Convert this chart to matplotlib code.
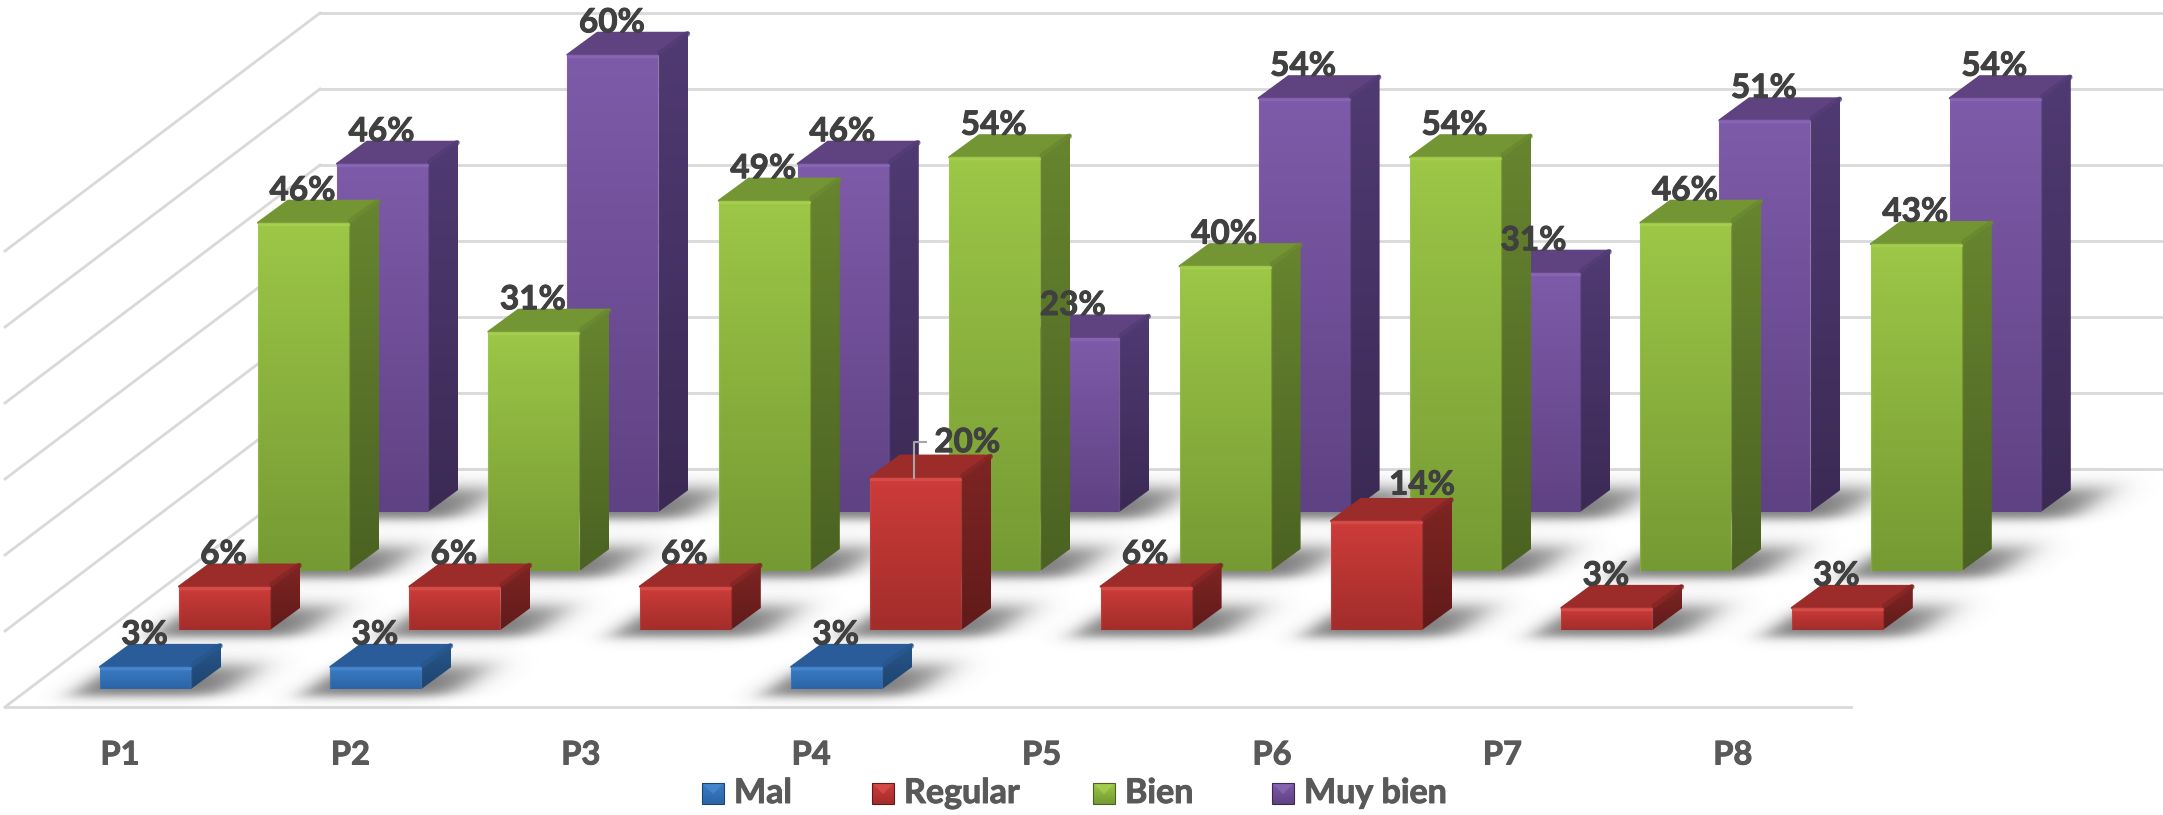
import numpy as np
import matplotlib
matplotlib.use("Agg")
import matplotlib.pyplot as plt
import matplotlib.patheffects as pe
from matplotlib.colors import LinearSegmentedColormap
from matplotlib.patches import Polygon

categories = ["P1", "P2", "P3", "P4", "P5", "P6", "P7", "P8"]
series_names = ["Mal", "Regular", "Bien", "Muy bien"]
mal = [2.9, 2.9, None, 2.9, None, None, None, None]
regular = [5.7, 5.7, 5.7, 20.0, 5.7, 14.3, 2.9, 2.9]
bien = [45.7, 31.4, 48.6, 54.3, 40.0, 54.3, 45.7, 42.9]
muy_bien = [45.7, 60.0, 45.7, 22.9, 54.3, 31.4, 51.4, 54.3]
grid_ticks = [0, 10, 20, 30, 40, 50, 60]

W, H = 2163, 815
X0, Y0 = 100, 689       # front left foot of first bar in first row
CAT_STEP = 230.4
ROW_DX, ROW_DY = 79, 59
BAR_W = 91
DEPTH_DX, DEPTH_DY = 30, 22
PX_PER_PCT = 7.62

# front top, front bottom, top face, side top, side bottom, highlight
palette = {
    "Mal": ("#3B7DC6", "#2C64A6", "#2A5C99", "#27568A", "#1F4470", "#4A8AD0"),
    "Regular": ("#CD3C39", "#A22D2B", "#9C2C2A", "#7E2523", "#611B1A", "#D9504C"),
    "Bien": ("#9CC747", "#759A33", "#749534", "#67852F", "#4B6222", "#A9D052"),
    "Muy bien": ("#7E5BA9", "#5F4283", "#5E4380", "#503A72", "#3C2A55", "#8C69B6"),
}

plt.rcParams["font.family"] = ["Lato", "DejaVu Sans"]
fig = plt.figure(figsize=(W / 100, H / 100), dpi=100)
ax = fig.add_axes([0, 0, 1, 1])
ax.axis("off")


def foot(cat, row):
    return X0 + cat * CAT_STEP + row * ROW_DX, Y0 - row * ROW_DY


def gradient(poly, c_top, c_bot, y_top, y_bot, x_min, x_max, z):
    cmap = LinearSegmentedColormap.from_list("g", [c_top, c_bot])
    im = ax.imshow(np.linspace(0, 1, 64).reshape(-1, 1), cmap=cmap, aspect="auto",
                   extent=[x_min, x_max, y_bot, y_top], zorder=z, interpolation="bilinear")
    patch = Polygon(poly, closed=True, transform=ax.transData, facecolor="none", edgecolor="none")
    ax.add_patch(patch)
    im.set_clip_path(patch)


def draw_shadow(x, y):
    # soft floor shadow, sheared along the depth direction
    xs = np.arange(x - 100, x + BAR_W + 150)
    ys = np.arange(y - 60, y + 40)
    gx, gy = np.meshgrid(xs, ys)
    u = gx + (gy - y) * DEPTH_DX / DEPTH_DY
    edge = lambda t, s: 1 / (1 + np.exp(-t / s))
    a = edge(u - (x - 20), 8) * edge((x + BAR_W + 38) - u, 11)
    a = a * edge(gy - (y - DEPTH_DY - 1), 5) * edge((y + 7) - gy, 3)
    rgba = np.zeros(a.shape + (4,))
    rgba[..., :3] = 0.2
    rgba[..., 3] = a * 0.66
    ax.imshow(rgba, extent=[xs[0], xs[-1], ys[-1], ys[0]], aspect="auto", zorder=2,
              interpolation="bilinear")


def draw_bar(x, y, value, name, z):
    ft, fb, tp, st, sb, hi = palette[name]
    h = value * PX_PER_PCT
    t = y - h
    r = x + BAR_W
    ddx, ddy = DEPTH_DX, DEPTH_DY
    front = [(x, y), (r, y), (r, t), (x, t)]
    side = [(r, y), (r + ddx, y - ddy), (r + ddx, t - ddy), (r, t)]
    top = [(x, t), (r, t), (r + ddx, t - ddy), (x + ddx, t - ddy)]
    gradient(side, st, sb, t - ddy, y, r, r + ddx, z)
    gradient(front, ft, fb, t, y, x, r, z + 0.1)
    ax.add_patch(Polygon(top, closed=True, facecolor=tp, edgecolor=tp, lw=1.5,
                         joinstyle="round", zorder=z + 0.2))
    # bevel highlights
    ax.plot([x + 1, r - 1], [t + 1, t + 1], color=hi, lw=2.5, alpha=0.8,
            solid_capstyle="round", zorder=z + 0.3)
    ax.plot([r + 2, r + ddx - 1], [t - 2, t - ddy + 1], color=st, lw=4, alpha=0.7,
            solid_capstyle="round", zorder=z + 0.3)
    ax.plot([r, r], [t + 2, y], color=hi, lw=1, alpha=0.35, zorder=z + 0.3)
    ax.plot([x, x], [t + 2, y], color=hi, lw=1, alpha=0.35, zorder=z + 0.3)


def thick(color, w=0.7):
    return [pe.withStroke(linewidth=w, foreground=color)]


# walls and floor
wall_x = 320
wall_y = 469
floor_x = 5
grid_c = "#D9D9D9"
for tick in grid_ticks:
    off = tick * 7.6
    ax.plot([wall_x, W], [wall_y - off, wall_y - off], color=grid_c, lw=2, zorder=1)
    ax.plot([floor_x, wall_x], [wall_y + 238 - off, wall_y - off], color=grid_c, lw=2, zorder=1)
ax.plot([floor_x, 1851], [wall_y + 238, wall_y + 238], color=grid_c, lw=2, zorder=1)

rows = [mal, regular, bien, muy_bien]
for row, (name, vals) in enumerate(zip(series_names, rows)):
    for cat, v in enumerate(vals):
        if v is not None:
            draw_shadow(*foot(cat, row))

for row in range(3, -1, -1):
    for cat, v in enumerate(rows[row]):
        if v is None:
            continue
        x, y = foot(cat, row)
        draw_bar(x, y, v, series_names[row], 10 + (3 - row) * 10 + cat * 0.5)

# value labels sit on the back edge of each bar
for row, vals in enumerate(rows):
    for cat, v in enumerate(vals):
        if v is None:
            continue
        x, y = foot(cat, row)
        top_y = y - v * PX_PER_PCT - DEPTH_DY
        lx, ly = x + BAR_W / 2 - 1, top_y - 10
        if series_names[row] == "Regular" and categories[cat] == "P4":
            lx, ly = x + 97, top_y - 13
            cx = x + BAR_W / 2 - 2
            ax.plot([cx, cx, cx + 12], [top_y + DEPTH_DY, ly - 1, ly - 1], color="#A6A6A6",
                    lw=1.5, zorder=70)
        if series_names[row] == "Regular" and categories[cat] == "P6":
            lx, ly = x + 91, top_y - 14
        ax.text(lx, ly, f"{v:.0f}%", ha="center", va="center", fontsize=24, fontweight="bold",
                color="#404040", zorder=80, path_effects=thick("#404040"))

for cat, label in enumerate(categories):
    ax.text(120 + cat * CAT_STEP, 755, label, ha="center", va="center", fontsize=23.5,
            fontweight="bold", color="#595959", path_effects=thick("#595959"))

# legend
legend_marker_x = [702, 872, 1093, 1272]
for mx, name in zip(legend_marker_x, series_names):
    ft, fb, tp, st, sb, hi = palette[name]
    box = [(mx, 804), (mx + 22, 804), (mx + 22, 783), (mx, 783)]
    gradient(box, ft, fb, 783, 804, mx, mx + 22, 5)
    ax.add_patch(Polygon([(mx, 783), (mx + 22, 783), (mx + 11, 794)], closed=True,
                         facecolor=hi, edgecolor="none", alpha=0.75, zorder=6))
    ax.add_patch(Polygon(box, closed=True, facecolor="none", edgecolor=sb, lw=0.8, zorder=6))
    ax.text(mx + 32, 793, name, ha="left", va="center", fontsize=24.5, fontweight="bold",
            color="#595959", path_effects=thick("#595959"))

ax.set_xlim(0, W)
ax.set_ylim(H, 0)
fig.savefig("out.png", dpi=100, facecolor="white")
